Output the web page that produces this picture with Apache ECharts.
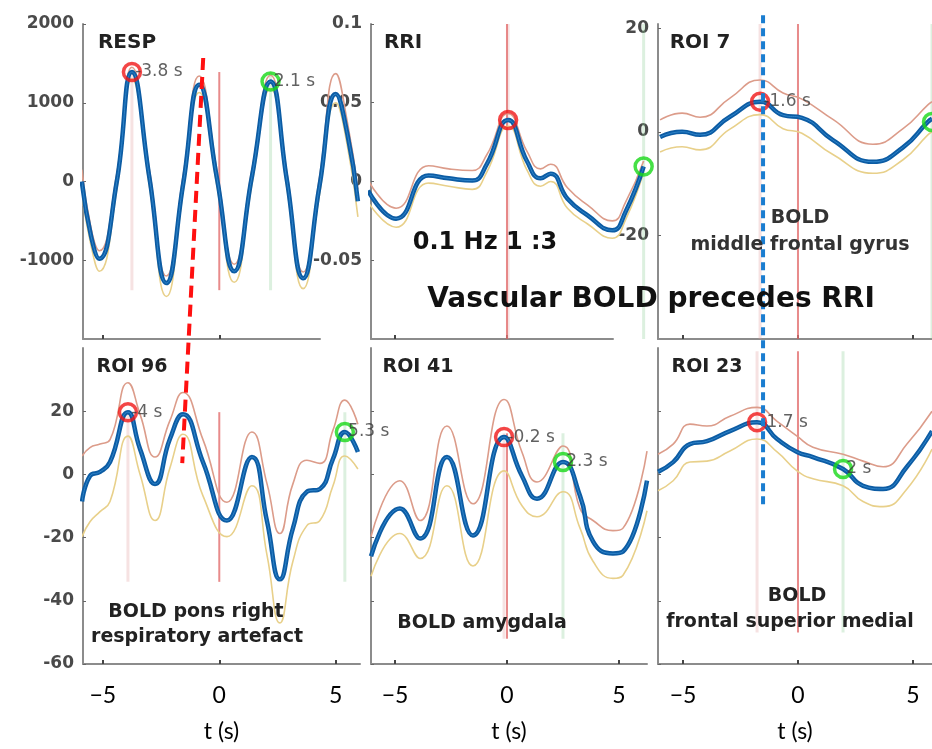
<!DOCTYPE html>
<html>
<head>
<meta charset="utf-8">
<script src="https://cdn.jsdelivr.net/npm/echarts@6.0.0/dist/echarts.min.js"></script>
<style>
  html, body { margin: 0; padding: 0; background: #fff; }
  #chart { width: 932px; height: 749px; }
</style>
</head>
<body>
<div id="chart"></div>
<script>
// ---- RESP (top left) ----
const respT = [-5.9, -5.5, -5.15, -4.4, -3.75, -3.0, -2.27, -1.55, -0.86, -0.1, 0.64, 1.4, 2.2, 2.9, 3.6, 4.3, 5.0, 5.5, 5.95];
const respMean = [0, -700, -980, 0, 1390, 50, -1290, -30, 1230, 40, -1140, 60, 1270, 20, -1230, -60, 1110, 600, -250];
const respUpper = [150, -600, -880, 100, 1450, 150, -1200, 80, 1340, 140, -1050, 150, 1350, 120, -1150, 50, 1370, 750, -100];
const respLower = [-150, -820, -1140, -100, 1300, -60, -1460, -130, 1130, -60, -1280, -40, 1180, -80, -1360, -170, 1000, 450, -450];
const respPeaks = [[-3.75, 1390], [2.2, 1270]];
const respPeakLabels = ['-3.8 s', '2.1 s'];
const respSpan = [1390, -1380];

// ---- RRI (top middle) ----
const rriT = [-6.2, -4.95, -3.5, -2.6, -1.55, -0.9, 0.05, 0.9, 1.5, 1.95, 2.7, 3.6, 4.7, 5.3, 6.1];
const rriMean = [-0.0057, -0.0236, 0.0038, 0.002, 0.0006, 0.011, 0.039, 0.0127, 0.002, 0.005, -0.011, -0.0215, -0.031, -0.019, 0.0095];
const rriUpper = [0.001, -0.017, 0.010, 0.008, 0.007, 0.017, 0.043, 0.019, 0.008, 0.011, -0.004, -0.015, -0.025, -0.013, 0.013];
const rriLower = [-0.013, -0.029, -0.001, -0.003, -0.005, 0.006, 0.035, 0.007, -0.003, 0.000, -0.017, -0.027, -0.036, -0.024, 0.006];
const rriPeaks = [[0.05, 0.039], [6.1, 0.0095]];
const rriPeakLabels = ['', ''];
const rriSpan = [0.1, -0.1];

// ---- ROI 7 (top right) ----
const roi7T = [-6.0, -5.04, -4.26, -2.96, -1.65, -0.65, 0.17, 1.52, 3.26, 4.57, 5.65, 5.83];
const roi7Mean = [-1.0, 0, -0.6, 2.9, 5.8, 3.2, 2.7, -1.6, -5.8, -3.0, 1.9, 2.5];
const roi7Upper = [2.3, 3.6, 2.8, 6.5, 10, 7.5, 6.3, 2.4, -2.4, 0.6, 5.2, 5.8];
const roi7Lower = [-3.9, -2.9, -3.5, 0.5, 3.3, 0.6, -0.3, -4.4, -8.0, -5.4, -0.6, 0];
const roi7Peaks = [[-1.65, 5.8], [5.83, 1.9]];
const roi7PeakLabels = ['-1.6 s', ''];
const roi7Span = [20.8, -40];

// ---- ROI 96 (bottom left) ----
const roi96T = [-5.89, -5.55, -5.12, -4.69, -3.92, -3.4, -2.76, -2.12, -1.56, -0.7, 0.33, 1.4, 2.05, 2.6, 3.16, 3.76, 4.32, 4.88, 5.39, 5.95];
const roi96Mean = [-8.6, -0.5, 0.8, 3.9, 19.7, 8.0, -3.0, 11.2, 19.0, 3.9, -14.6, 5.5, -14.9, -33.2, -17.1, -5.5, -4.6, 4.9, 13.4, 7.1];
const roi96Upper = [5.8, 8.5, 9.6, 11, 29, 19, 5.5, 17, 25.9, 11, -8.8, 13.4, -3, -18.7, -3, 4.5, 3.5, 14, 23.5, 15.9];
const roi96Lower = [-19.7, -15, -11.8, -8.6, 12.1, 0, -14.6, 2, 12.7, -6.8, -19.7, -3.6, -25.6, -47, -27.5, -16.2, -14.6, -3.6, 5.8, 1.7];
const roi96Peaks = [[-3.92, 19.7], [5.39, 13.4]];
const roi96PeakLabels = ['-4 s', '5.3 s'];
const roi96Span = [19.7, -34];

// ---- ROI 41 (bottom middle) ----
const roi41T = [-6.07, -4.78, -3.88, -2.68, -1.52, -0.13, 0.67, 1.34, 2.5, 3.26, 3.84, 4.73, 5.18, 6.25];
const roi41Mean = [-25.9, -10.8, -20.3, 5.5, -19.3, 11.8, -0.5, -7.7, 3.9, -6.8, -21.2, -25, -24.4, -2.0];
const roi41Upper = [-19.7, -2, -14.6, 15.3, -9.3, 23.7, 7, -2.4, 9, -10.8, -14.6, -17.8, -17, 7.4];
const roi41Lower = [-32.2, -18.7, -26.6, -3.6, -29, 1.1, -9.9, -13.4, -5.5, -17, -27.5, -32.9, -31.9, -11.5];
const roi41Peaks = [[-0.13, 11.8], [2.5, 3.9]];
const roi41PeakLabels = ['-0.2 s', '2.3 s'];
const roi41Span = [13, -52];

// ---- ROI 23 (bottom right) ----
const roi23T = [-6.09, -5.43, -4.7, -3.96, -2.96, -1.78, -0.91, -0.04, 0.65, 1.96, 2.83, 3.7, 4.74, 5.83];
const roi23Mean = [0.8, 3.9, 9.6, 10.5, 13.7, 16.5, 11.2, 7.1, 5.5, 1.7, -3.6, -4.6, 2.4, 13.7];
const roi23Upper = [6.4, 9.6, 15.9, 15.3, 18.4, 21.2, 16.8, 12.1, 8.6, 6.4, 4.2, 2.4, 9.6, 20];
const roi23Lower = [-5.2, -2, 3.9, 4.2, 7.4, 11.2, 7.1, 1.1, -1.4, -3.6, -8.6, -10.2, -4.6, 8.0];
const roi23Peaks = [[-1.78, 16.5], [1.96, 1.7]];
const roi23PeakLabels = ['-1.7 s', '2 s'];
const roi23Span = [39, -50];

// annotation lines: red dashed (RESP -> ROI 96), blue dashed (ROI 7 -> ROI 23)
const respDashT = [-0.69, -1.59];
const respDashV = [1568, -3575];
const roi7DashT = [-1.52, -1.52];
const roi7DashV = [22.5, -72];

// axis ticks
const tTicks = [-5, 0, 5];
const respTicks = [-1000, 0, 1000, 2000];
const rriTicks = [-0.05, 0, 0.05, 0.1];
const roi7Ticks = [-20, 0, 20];
const boldTicks = [-60, -40, -20, 0, 20];

const chart = echarts.init(document.getElementById('chart'));

// frame: the drawn time axis, which in the top row is shorter than the curves
const panels = [
  { t: respT, mean: respMean, up: respUpper, lo: respLower, peaks: respPeaks, labels: respPeakLabels, span: respSpan,
    grid: { left: 83, top: 24, width: 277, height: 315 }, x: [-5.85, 6.04], frame: { width: 237, x: [-5.85, 4.32] },
    y: [-2000, 2000], yTicks: respTicks, showY: true, bottom: false },
  { t: rriT, mean: rriMean, up: rriUpper, lo: rriLower, peaks: rriPeaks, labels: rriPeakLabels, span: rriSpan,
    grid: { left: 371, top: 24, width: 276, height: 315 }, x: [-6.07, 6.25], frame: { width: 242, x: [-6.07, 4.73] },
    y: [-0.1, 0.1], yTicks: rriTicks, showY: true, bottom: false },
  { t: roi7T, mean: roi7Mean, up: roi7Upper, lo: roi7Lower, peaks: roi7Peaks, labels: roi7PeakLabels, span: roi7Span,
    grid: { left: 658, top: 24, width: 274, height: 315 }, x: [-6.09, 5.83], frame: null,
    y: [-40, 20.8], yTicks: roi7Ticks, showY: true, bottom: false },
  { t: roi96T, mean: roi96Mean, up: roi96Upper, lo: roi96Lower, peaks: roi96Peaks, labels: roi96PeakLabels, span: roi96Span,
    grid: { left: 83, top: 348, width: 277, height: 316 }, x: [-5.85, 6.04], frame: null,
    y: [-60, 40], yTicks: boldTicks, showY: true, bottom: true },
  { t: roi41T, mean: roi41Mean, up: roi41Upper, lo: roi41Lower, peaks: roi41Peaks, labels: roi41PeakLabels, span: roi41Span,
    grid: { left: 371, top: 348, width: 276, height: 316 }, x: [-6.07, 6.25], frame: null,
    y: [-60, 40], yTicks: boldTicks, showY: false, bottom: true },
  { t: roi23T, mean: roi23Mean, up: roi23Upper, lo: roi23Lower, peaks: roi23Peaks, labels: roi23PeakLabels, span: roi23Span,
    grid: { left: 658, top: 348, width: 274, height: 316 }, x: [-6.09, 5.83], frame: null,
    y: [-60, 40], yTicks: boldTicks, showY: false, bottom: true }
];

const axisGray = { color: '#8c8c8c', width: 2 };
const tickStyle = { color: '#444', width: 2 };
const grids = [], xAxes = [], yAxes = [], series = [];

function pairs(t, v) { return t.map((x, k) => [x, v[k]]); }

function timeAxis(i, range, showLine, bottom) {
  return {
    type: 'value', gridIndex: i, min: range[0], max: range[1],
    axisLine: { show: showLine, onZero: false, lineStyle: axisGray },
    axisTick: { show: showLine, inside: true, length: 4, customValues: tTicks, lineStyle: tickStyle },
    axisLabel: {
      show: bottom, customValues: tTicks, margin: 20,
      fontFamily: 'Lato', fontSize: 23, color: '#000',
      formatter: v => v < 0 ? '\u2212' + Math.abs(v) : String(v)
    },
    splitLine: { show: false },
    name: bottom ? 't (s)' : '', nameLocation: 'middle', nameGap: 56,
    nameTextStyle: { fontFamily: 'Lato', fontSize: 23, color: '#000' }
  };
}

panels.forEach((p, i) => {
  grids.push(Object.assign({ containLabel: false, outerBoundsMode: 'none' }, p.grid));
  xAxes.push(timeAxis(i, p.x, !p.frame, p.bottom));
  yAxes.push({
    type: 'value', gridIndex: i, min: p.y[0], max: p.y[1],
    axisLine: { show: true, onZero: false, lineStyle: axisGray },
    axisTick: { show: true, inside: true, length: 3, customValues: p.yTicks, lineStyle: { color: '#666' } },
    axisLabel: {
      show: p.showY, customValues: p.yTicks, margin: 9, formatter: v => String(v),
      fontFamily: 'DejaVu Sans', fontSize: 17, fontWeight: 'bold', color: '#4a4a4a'
    },
    splitLine: { show: false }
  });

  const base = { xAxisIndex: i, yAxisIndex: i, clip: false, silent: true, animation: false };
  // vertical guides: red peak (faint), t = 0 (red), green peak (faint)
  const guides = [
    [p.peaks[0][0], 'rgba(225,160,160,0.3)', 3],
    [0, 'rgba(226,110,110,0.8)', 2],
    [p.peaks[1][0], 'rgba(140,205,150,0.3)', 3]
  ];
  guides.forEach(g => {
    series.push(Object.assign({}, base, {
      type: 'line', symbol: 'none', data: [[g[0], p.span[0]], [g[0], p.span[1]]],
      lineStyle: { color: g[1], width: g[2] }, z: 1
    }));
  });
  series.push(Object.assign({}, base, {
    type: 'line', symbol: 'none', smooth: 0.5, data: pairs(p.t, p.up),
    lineStyle: { color: '#dc9c8a', width: 1.6 }, z: 2
  }));
  series.push(Object.assign({}, base, {
    type: 'line', symbol: 'none', smooth: 0.5, data: pairs(p.t, p.lo),
    lineStyle: { color: '#e8d08a', width: 1.6 }, z: 2
  }));
  series.push(Object.assign({}, base, {
    type: 'line', symbol: 'none', smooth: 0.5, data: pairs(p.t, p.mean),
    lineStyle: { color: '#0c5ca4', width: 4.5 }, z: 3
  }));
  series.push(Object.assign({}, base, {
    type: 'line', symbol: 'none', smooth: 0.5, data: pairs(p.t, p.mean),
    lineStyle: { color: '#3d94d8', width: 1, opacity: 0.7 }, z: 4
  }));
  ['#f01818', '#18d818'].forEach((c, k) => {
    series.push(Object.assign({}, base, {
      type: 'scatter', symbol: 'circle', symbolSize: 17, data: [p.peaks[k]],
      itemStyle: { color: 'rgba(255,255,255,0)', borderColor: c, borderWidth: 3.5 },
      label: {
        show: p.labels[k] !== '', position: 'right', distance: -7, formatter: p.labels[k],
        fontFamily: 'DejaVu Sans', fontSize: 17, color: '#3a3a3a'
      },
      z: 5
    }));
  });
});

// short drawn time axes for RESP and RRI
panels.forEach((p, i) => {
  if (!p.frame) return;
  const g = grids.length;
  grids.push({ left: p.grid.left, top: p.grid.top, width: p.frame.width, height: p.grid.height, containLabel: false, outerBoundsMode: 'none' });
  xAxes.push(timeAxis(g, p.frame.x, true, false));
  yAxes.push({ type: 'value', gridIndex: g, min: p.y[0], max: p.y[1], show: false });
});

series.push({
  type: 'line', xAxisIndex: 0, yAxisIndex: 0, clip: false, silent: true, symbol: 'none',
  data: pairs(respDashT, respDashV), lineStyle: { color: '#ff1010', width: 4, type: [12, 7] }, z: 6
});
series.push({
  type: 'line', xAxisIndex: 2, yAxisIndex: 2, clip: false, silent: true, symbol: 'none',
  data: pairs(roi7DashT, roi7DashV), lineStyle: { color: '#1a7dd0', width: 4, type: [8, 5] }, z: 6
});

function txt(text, x, y, size, color) {
  return {
    type: 'text', x: x, y: y, z: 100,
    style: {
      text: text, fill: color, font: 'bold ' + size + 'px "DejaVu Sans", sans-serif',
      align: 'center', verticalAlign: 'middle', textAlign: 'center', textVerticalAlign: 'middle'
    }
  };
}

const graphic = [
  txt('RESP', 127, 43, 20, '#222'),
  txt('RRI', 403, 43, 20, '#222'),
  txt('ROI 7', 700, 43, 20, '#222'),
  txt('ROI 96', 132, 367, 19, '#222'),
  txt('ROI 41', 418, 367, 19, '#222'),
  txt('ROI 23', 707, 367, 19, '#222'),
  txt('BOLD', 800, 218, 19, '#333'),
  txt('middle frontal gyrus', 800, 245, 19, '#333'),
  txt('BOLD pons right', 196, 612, 19, '#222'),
  txt('respiratory artefact', 197, 637, 19, '#222'),
  txt('BOLD amygdala', 482, 623, 19, '#222'),
  txt('BOLD', 797, 596, 19, '#222'),
  txt('frontal superior medial', 790, 622, 19, '#222'),
  txt('0.1 Hz 1 :3', 485, 243, 24, '#111'),
  txt('Vascular BOLD precedes RRI', 651, 300, 28, '#111')
];

chart.setOption({
  animation: false,
  backgroundColor: '#fff',
  grid: grids,
  xAxis: xAxes,
  yAxis: yAxes,
  series: series,
  graphic: graphic
});
</script>
</body>
</html>
